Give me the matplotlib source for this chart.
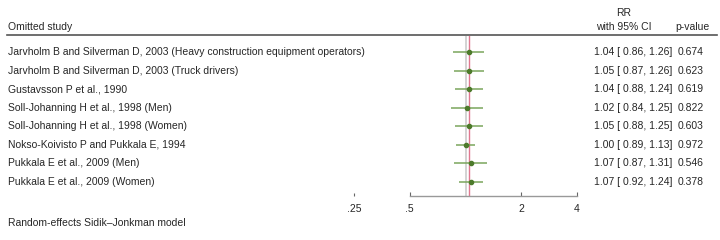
import matplotlib
matplotlib.use("Agg")
import matplotlib.pyplot as plt
import matplotlib.transforms as mtransforms

# leave-one-out meta-analysis data
studies = [
    "Jarvholm B and Silverman D, 2003 (Heavy construction equipment operators)",
    "Jarvholm B and Silverman D, 2003 (Truck drivers)",
    "Gustavsson P et al., 1990",
    "Soll-Johanning H et al., 1998 (Men)",
    "Soll-Johanning H et al., 1998 (Women)",
    "Nokso-Koivisto P and Pukkala E, 1994",
    "Pukkala E et al., 2009 (Men)",
    "Pukkala E et al., 2009 (Women)",
]
rr = [1.04, 1.05, 1.04, 1.02, 1.05, 1.00, 1.07, 1.07]
ci_lo = [0.86, 0.87, 0.88, 0.84, 0.88, 0.89, 0.87, 0.92]
ci_hi = [1.26, 1.26, 1.24, 1.25, 1.25, 1.13, 1.31, 1.24]
pvals = [0.674, 0.623, 0.619, 0.822, 0.603, 0.972, 0.546, 0.378]
overall = 1.044
xticks = [0.25, 0.5, 2, 4]
xticklabels = [".25", ".5", "2", "4"]

plt.rcParams["font.family"] = ["Liberation Sans", "DejaVu Sans"]
fs = 7.5
tc = "#262626"

W, H = 720, 240
fig = plt.figure(figsize=(7.2, 2.4), dpi=100)
# axes spans .25 -> 4 horizontally, header line -> axis line vertically
ax = fig.add_axes([354 / W, (H - 196) / H, (577 - 354) / W, (196 - 36) / H])
ax.set_xscale("log")
ax.set_xlim(0.25, 4)
ax.set_ylim(7.75, -0.86)

n = len(studies)
rows = list(range(n))

ax.axvline(1, color="#cccccc", lw=1.2, zorder=1)
ax.axvline(overall, color="#e07890", lw=1.0, zorder=1)
ax.hlines(rows, ci_lo, ci_hi, color="#7ba65c", lw=1.1, zorder=2)
ax.plot(rr, rows, "o", color="#4d7a2b", ms=3.0, zorder=3)

for s in ["top", "left", "right"]:
    ax.spines[s].set_visible(False)
ax.spines["bottom"].set_bounds(0.5, 4)
ax.spines["bottom"].set_color("#999999")
ax.spines["bottom"].set_linewidth(1.0)
ax.set_yticks([])
ax.set_xticks(xticks)
ax.set_xticklabels(xticklabels)
ax.minorticks_off()
ax.tick_params(axis="x", direction="in", length=3, width=0.8, color="#666666",
               labelsize=fs, labelcolor=tc, pad=6)
# the .25 tick sits off the axis line and is fainter
t0 = ax.xaxis.get_major_ticks()[0]
t0.tick1line.set_color("#aaaaaa")
t0.tick1line.set_markersize(2)

trans = mtransforms.blended_transform_factory(fig.transFigure, ax.transData)
for i in rows:
    ax.text(8 / W, i, studies[i], transform=trans, ha="left", va="center",
            fontsize=fs, color=tc)
    ax.text(672 / W, i, f"{rr[i]:.2f} [ {ci_lo[i]:.2f}, {ci_hi[i]:.2f}]",
            transform=trans, ha="right", va="center", fontsize=fs, color=tc)
    ax.text(691 / W, i, f"{pvals[i]:.3f}", transform=trans, ha="center",
            va="center", fontsize=fs, color=tc)

# header
fig.text(8 / W, 1 - 27 / H, "Omitted study", ha="left", va="center", fontsize=fs, color=tc)
fig.text(624 / W, 1 - 13 / H, "RR", ha="center", va="center", fontsize=fs, color=tc)
fig.text(624 / W, 1 - 27 / H, "with 95% CI", ha="center", va="center", fontsize=fs, color=tc)
fig.text(692 / W, 1 - 27 / H, "p-value", ha="center", va="center", fontsize=fs, color=tc)
fig.add_artist(plt.Line2D([7 / W, 717 / W], [1 - 35 / H, 1 - 35 / H],
                          transform=fig.transFigure, color="#555555", lw=1.2))

fig.text(8 / W, 1 - 223 / H, "Random-effects Sidik\u2013Jonkman model", ha="left",
         va="center", fontsize=fs, color=tc)

fig.savefig("out.png", dpi=100)
